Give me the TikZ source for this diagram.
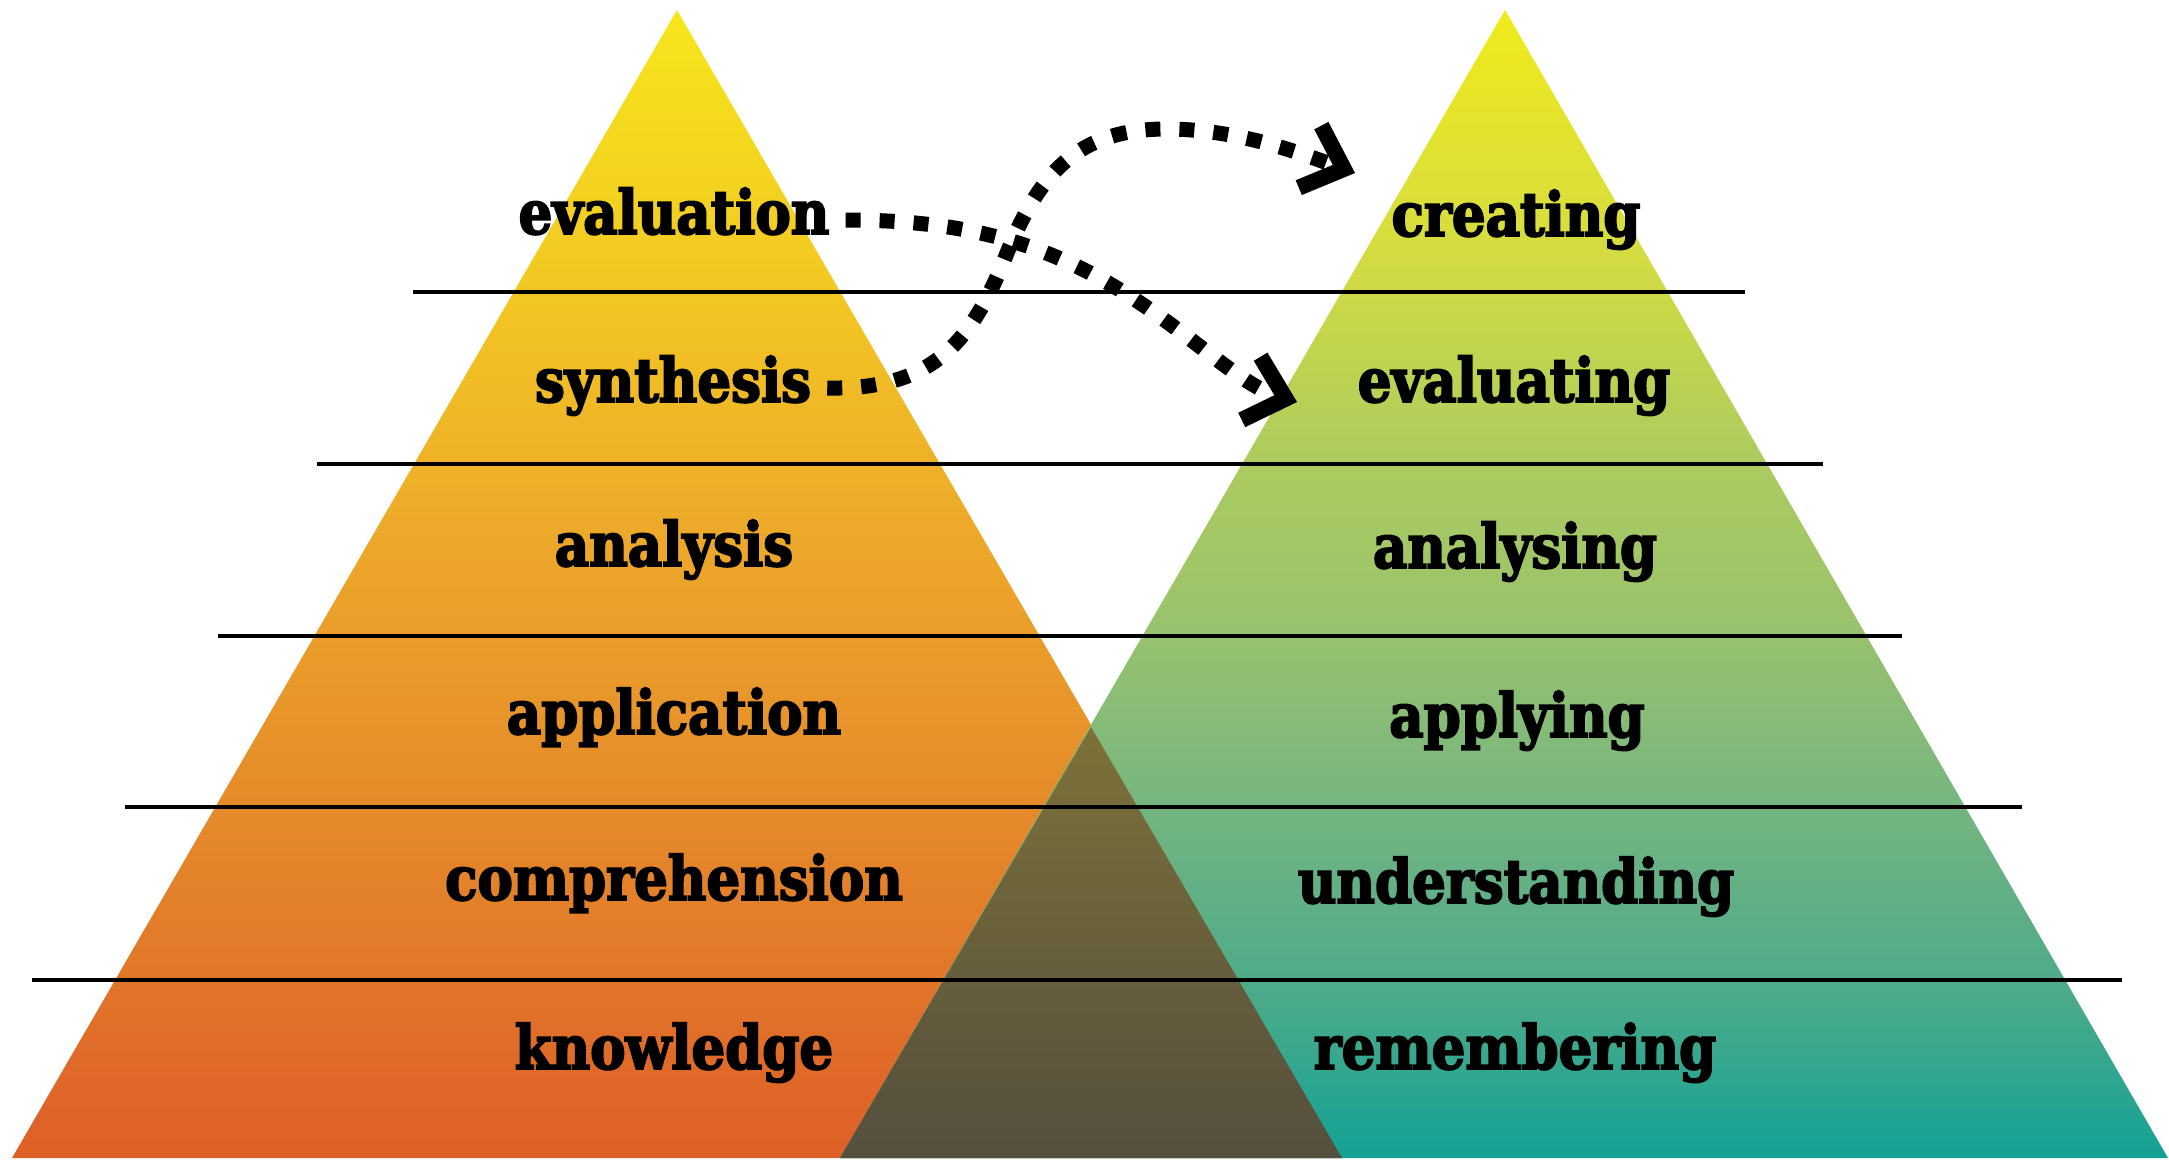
\documentclass[tikz,border=0pt]{standalone}
\usepackage{fontspec}
\setmainfont{DejaVu Serif}
\newfontfamily\lblfont{DejaVu Serif Bold}[FakeStretch=0.87,FakeBold=3]
\usetikzlibrary{arrows.meta}
% left pyramid colours
\definecolor{la}{HTML}{F6E61C}
\definecolor{lb}{HTML}{F2C623}
\definecolor{lc}{HTML}{EDAA2A}
\definecolor{ld}{HTML}{E8962A}
\definecolor{le}{HTML}{E3802A}
\definecolor{lf}{HTML}{DF6528}
\definecolor{lg}{HTML}{DF6027}
% right pyramid colours
\definecolor{ra}{HTML}{F0EA1C}
\definecolor{rb}{HTML}{D9DE3C}
\definecolor{rc}{HTML}{ABCB60}
\definecolor{rd}{HTML}{9DC46A}
\definecolor{re}{HTML}{8BBD76}
\definecolor{rf}{HTML}{6BB283}
\definecolor{rg}{HTML}{4AAA8A}
\definecolor{rh}{HTML}{14A295}
% overlap
\definecolor{otop}{HTML}{7D7139}
\definecolor{obot}{HTML}{554F3E}
\pgfdeclareverticalshading{leftshade}{100bp}{color(0bp)=(lg); color(25bp)=(lg); color(27.5bp)=(lf); color(36.2bp)=(le); color(44.9bp)=(ld); color(52.8bp)=(lc); color(62.4bp)=(lb); color(75bp)=(la); color(100bp)=(la)}
\pgfdeclareverticalshading{rightshade}{100bp}{color(0bp)=(rh); color(25bp)=(rh); color(31.9bp)=(rg); color(38.4bp)=(rf); color(44.9bp)=(re); color(49.3bp)=(rd); color(55bp)=(rc); color(65.8bp)=(rb); color(75bp)=(ra); color(100bp)=(ra)}
\tikzset{
  lbl/.style={font=\lblfont\fontsize{61}{66}\selectfont, anchor=base, inner sep=0pt, text=black},
  rule/.style={line width=4pt, black},
  dotline/.style={line width=15pt, dash pattern=on 15pt off 19pt, black,
     -{Straight Barb[length=36pt, width=66pt, line width=16pt]}}
}
\begin{document}
\begin{tikzpicture}[x=1pt,y=1pt]
\useasboundingbox (0,0) rectangle (2169,-1160);
\fill[white] (0,0) rectangle (2169,-1160);
% triangles
\shade[shading=leftshade] (677,-10) -- (1342,-1158) -- (12,-1158) -- cycle;
\shade[shading=rightshade] (1505,-10) -- (2168,-1158) -- (840,-1158) -- cycle;
\shade[top color=otop, bottom color=obot] (1091,-727) -- (1342,-1158) -- (840,-1158) -- cycle;
% rules
\draw[rule] (413,-292) -- (1745,-292);
\draw[rule] (317,-464) -- (1823,-464);
\draw[rule] (218,-636) -- (1902,-636);
\draw[rule] (125,-807) -- (2022,-807);
\draw[rule] (32,-980) -- (2122,-980);
% labels
\node[lbl] (evaluation) at (674,-234) {evaluation};
\node[lbl] (synthesis) at (673,-402) {synthesis};
\node[lbl] (analysis) at (674,-566) {analysis};
\node[lbl] (application) at (674,-734) {application};
\node[lbl] (comprehension) at (674,-900) {comprehension};
\node[lbl] (knowledge) at (674,-1069) {knowledge};
\node[lbl] (creating) at (1516,-236) {creating};
\node[lbl] (evaluating) at (1514,-402) {evaluating};
\node[lbl] (analysing) at (1515,-568) {analysing};
\node[lbl] (applying) at (1517,-737) {applying};
\node[lbl] (understanding) at (1516,-903) {understanding};
\node[lbl] (remembering) at (1515,-1069) {remembering};
% arrows
\coordinate (tipE) at (1297,-402);
\coordinate (tipC) at (1355,-173);
\draw[dotline] ([xshift=16pt,yshift=14pt]evaluation.base east) .. controls (960,-220) and (1040,-241) .. (1120,-290)
   .. controls (1190,-333) and (1240,-385) .. (tipE);
\draw[dotline] ([xshift=16pt,yshift=14pt]synthesis.base east) .. controls (930,-390) and (970,-345) .. (1005,-258)
   .. controls (1040,-170) and (1080,-128) .. (1170,-129) .. controls (1240,-130) and (1300,-153) .. (tipC);
\end{tikzpicture}
\end{document}
